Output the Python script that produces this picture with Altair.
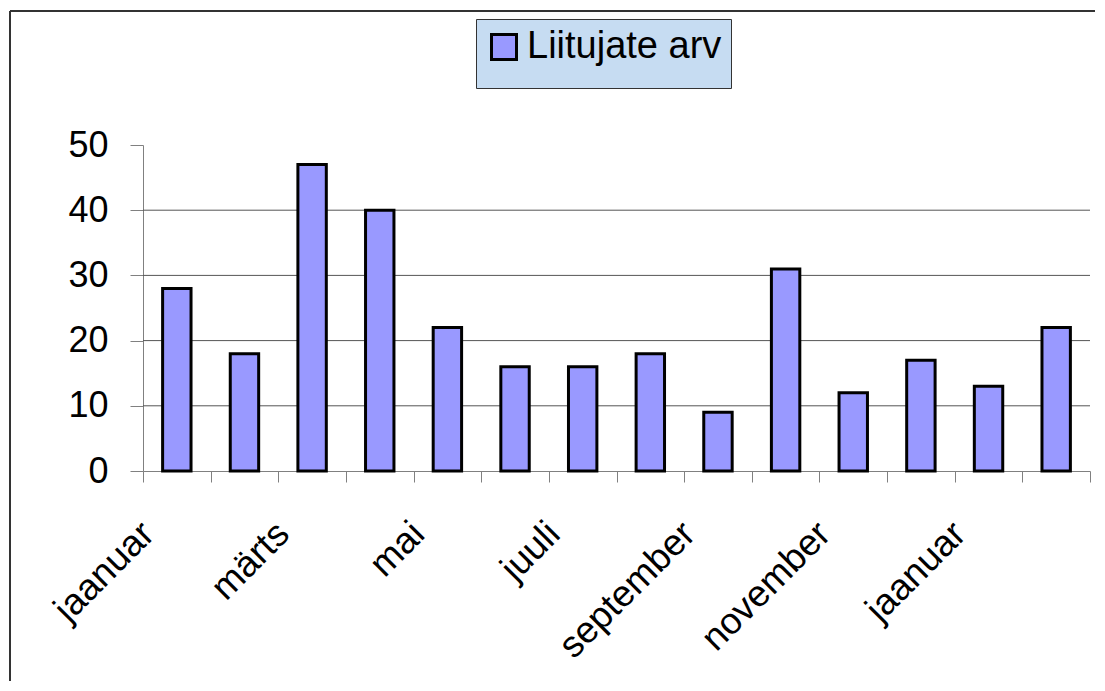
import json
import altair as alt
import pandas as pd

months = ["jaanuar", "veebruar", "märts", "aprill", "mai", "juuni", "juuli",
          "august", "september", "oktoober", "november", "detsember",
          "jaanuar", "veebruar"]
values = [28, 18, 47, 40, 22, 16, 16, 18, 9, 31, 12, 17, 13, 22]
series_name = "Liitujate arv"
y_ticks = [0, 10, 20, 30, 40, 50]
grid_values = [10, 20, 30, 40]

df = pd.DataFrame({"idx": list(range(len(months))), "month": months,
                   "value": values, "series": series_name})

FONT = "Liberation Sans"
names_js = json.dumps(months, ensure_ascii=False)
label_expr = f"datum.value % 2 == 0 ? {names_js}[datum.value] : ''"

# square symbol with invisible move-to points that make the legend row taller
legend_symbol = "M-1,-1H1V1H-1Z M0,-2.04 M0,2.04"

x_enc = alt.X("idx:O", title=None,
              scale=alt.Scale(paddingInner=0, paddingOuter=0),
              axis=alt.Axis(labelExpr=label_expr, labelAngle=-45,
                            labelAlign="right", labelBaseline="middle",
                            labelFont=FONT, labelFontSize=37, labelColor="black",
                            labelPadding=46, labelOffset=-29,
                            tickBand="extent", tickSize=11,
                            tickColor="#808080", domainColor="#808080",
                            grid=False, labelOverlap=False, labelBound=False))

bars = alt.Chart(df).mark_bar(stroke="black", strokeWidth=3,
                              width=alt.RelativeBandSize(0.42)).encode(
    x=x_enc,
    y=alt.Y("value:Q", title=None,
            scale=alt.Scale(domain=[0, 50], nice=False),
            axis=alt.Axis(values=y_ticks, grid=False, tickSize=13,
                          tickColor="#808080", domainColor="#808080",
                          labelFont=FONT, labelFontSize=36, labelColor="black",
                          labelPadding=22)),
    color=alt.Color("series:N",
                    scale=alt.Scale(range=["#9999FF"]),
                    legend=alt.Legend(title=None, orient="none",
                                      legendX=333, legendY=-126,
                                      fillColor="#C6DCF2", strokeColor="#333333",
                                      padding=9, symbolType=legend_symbol,
                                      symbolSize=625, symbolStrokeWidth=3,
                                      symbolStrokeColor="black",
                                      symbolFillColor="#9999FF",
                                      labelFont=FONT, labelFontSize=38,
                                      labelColor="black", labelOffset=4,
                                      labelLimit=0)),
)

grid = alt.Chart(pd.DataFrame({"g": grid_values})).mark_rule(
    color="#555555", strokeWidth=1).encode(y=alt.Y("g:Q"))

frame_v = alt.Chart(pd.DataFrame({"a": [0]})).mark_rule(
    color="#333333", strokeWidth=2, clip=False).encode(
    x=alt.value(-133), y=alt.value(-134), y2=alt.value(560))
frame_h = alt.Chart(pd.DataFrame({"a": [0]})).mark_rule(
    color="#333333", strokeWidth=2, clip=False).encode(
    x=alt.value(-133), x2=alt.value(970), y=alt.value(-134))

chart = alt.layer(grid, bars, frame_v, frame_h).properties(
    width=947, height=326,
    background="white",
    view=alt.ViewBackground(stroke="transparent", strokeWidth=0, strokeOpacity=0),
    autosize=alt.AutoSizeParams(type="none"),
    padding={"left": 135, "top": 137, "right": 5, "bottom": 210},
).configure_view(stroke="transparent", strokeWidth=0, strokeOpacity=0)

chart.save("out.html", embed_options={"renderer": "svg", "actions": False})
